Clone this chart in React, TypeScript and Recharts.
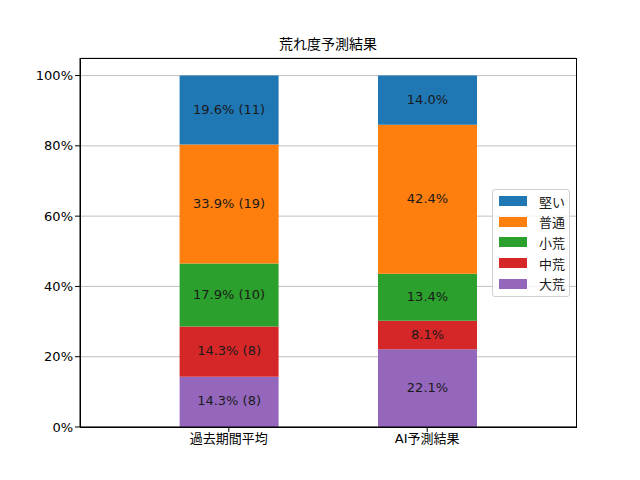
import { BarChart, Bar, XAxis, YAxis, CartesianGrid, LabelList } from "recharts";

const categories = ["過去期間平均", "AI予測結果"];
const seriesNames = ["大荒", "中荒", "小荒", "普通", "堅い"];
const seriesColors = ["#9467bd", "#d62728", "#2ca02c", "#ff7f0e", "#1f77b4"];
const pastPercent = [14.3, 14.3, 17.9, 33.9, 19.6];
const pastCount = [8, 8, 10, 19, 11];
const aiPercent = [22.1, 8.1, 13.4, 42.4, 14.0];
const yTicks = [0, 20, 40, 60, 80, 100];

const FONT = "'DejaVu Sans', 'Noto Sans CJK JP', sans-serif";

const data = categories.map((name, i) => {
  const row: Record<string, string | number> = { name };
  seriesNames.forEach((s, k) => {
    row[s] = i === 0 ? pastPercent[k] : aiPercent[k];
  });
  return row;
});

function segmentLabel(k: number) {
  return (props: any) => {
    const { x, y, width, height, index } = props;
    const text =
      index === 0
        ? `${pastPercent[k].toFixed(1)}% (${pastCount[k]})`
        : `${aiPercent[k].toFixed(1)}%`;
    return (
      <text
        x={Number(x) + Number(width) / 2}
        y={Number(y) + Number(height) / 2 - 1}
        textAnchor="middle"
        dominantBaseline="central"
        fontSize={13}
        fontFamily={FONT}
        fill="#1a1a1a"
      >
        {text}
      </text>
    );
  };
}

function LegendBox() {
  const order = [...seriesNames.keys()].reverse();
  return (
    <div
      style={{
        position: "absolute",
        left: 492,
        top: 189,
        width: 78,
        height: 108,
        border: "1px solid #d0d0d0",
        borderRadius: 3,
        background: "rgba(255,255,255,0.8)",
        boxSizing: "border-box",
        padding: "1px 0 0 6px",
        fontFamily: FONT,
        fontSize: 13,
        color: "#1a1a1a",
      }}
    >
      {order.map((k) => (
        <div key={k} style={{ display: "flex", alignItems: "center", height: 20.6 }}>
          <span style={{ width: 28, height: 10, background: seriesColors[k], marginRight: 12 }} />
          <span>{seriesNames[k]}</span>
        </div>
      ))}
    </div>
  );
}

export default function App() {
  return (
    <div style={{ position: "absolute", left: 0, top: 0, width: 640, height: 480, background: "#fff" }}>
      <div
        style={{
          position: "absolute",
          left: 80,
          width: 496,
          top: 33,
          textAlign: "center",
          fontFamily: FONT,
          fontSize: 14,
          color: "#000",
        }}
      >
        荒れ度予測結果
      </div>
      <BarChart
        width={640}
        height={480}
        data={data}
        margin={{ top: 58, right: 64, bottom: 23, left: 0 }}
        barSize={99}
      >
        <CartesianGrid vertical={false} stroke="#b0b0b0" strokeWidth={0.8} />
        <XAxis
          dataKey="name"
          padding={{ left: 49.6, right: 49.6 }}
          height={30}
          stroke="#000"
          tickLine={{ stroke: "#000" }}
          tickSize={5}
          tick={{ fill: "#000", fontSize: 13, fontFamily: FONT }}
        />
        <YAxis
          width={80}
          domain={[0, 105]}
          ticks={yTicks}
          tickFormatter={(v) => `${v}%`}
          stroke="#000"
          tickSize={5}
          tick={{ fill: "#000", fontSize: 13, fontFamily: FONT }}
        />
        {seriesNames.map((s, k) => (
          <Bar key={s} dataKey={s} stackId="a" fill={seriesColors[k]} isAnimationActive={false}>
            <LabelList dataKey={s} content={segmentLabel(k)} />
          </Bar>
        ))}
      </BarChart>
      <div
        style={{
          position: "absolute",
          left: 80,
          top: 58,
          width: 497,
          height: 370,
          border: "1px solid #000",
          boxSizing: "border-box",
          pointerEvents: "none",
        }}
      />
      <LegendBox />
    </div>
  );
}
